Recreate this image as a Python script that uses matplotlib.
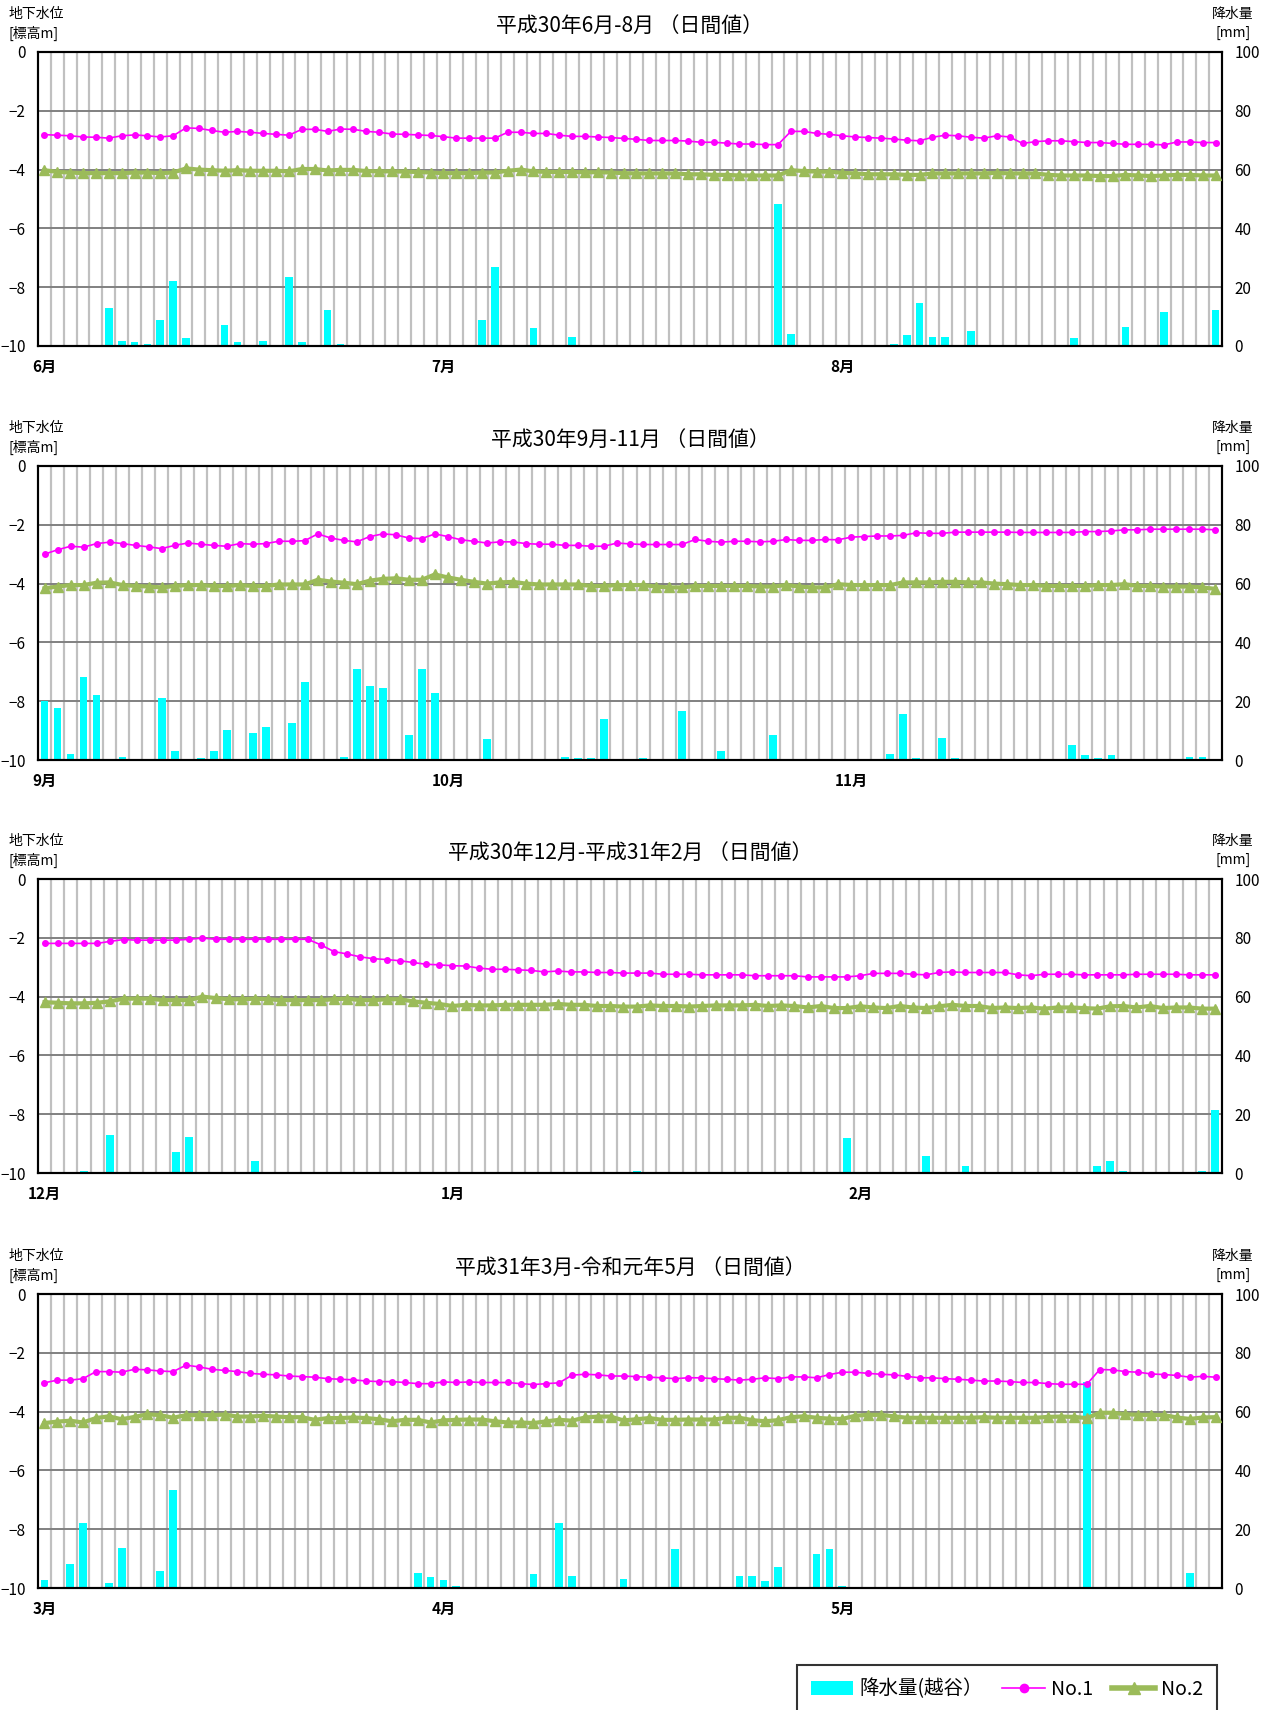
import matplotlib
matplotlib.use('Agg')
import matplotlib.pyplot as plt
from matplotlib.lines import Line2D
from matplotlib.patches import Patch
import numpy as np

plt.rcParams['font.family'] = ['Noto Sans CJK JP', 'DejaVu Sans']

# ---------------- data ----------------
titles = [
    "平成30年6月-8月 （日間値）",
    "平成30年9月-11月 （日間値）",
    "平成30年12月-平成31年2月 （日間値）",
    "平成31年3月-令和元年5月 （日間値）",
]
month_labels = [
    ["6月", "7月", "8月"],
    ["9月", "10月", "11月"],
    ["12月", "1月", "2月"],
    ["3月", "4月", "5月"],
]
month_label_days = [0, 31, 62]

# Panel 1: 2018-06-01 .. 2018-08-31
no1_p1 = [-2.81, -2.83, -2.85, -2.89, -2.90, -2.93, -2.85, -2.82, -2.85, -2.89,
          -2.85, -2.58, -2.60, -2.67, -2.73, -2.70, -2.73, -2.77, -2.80, -2.83,
          -2.63, -2.63, -2.70, -2.62, -2.63, -2.70, -2.73, -2.79, -2.80, -2.82,
          -2.84, -2.88, -2.93, -2.93, -2.93, -2.93, -2.73, -2.73, -2.77, -2.77,
          -2.83, -2.87, -2.87, -2.89, -2.91, -2.94, -2.97, -3.01, -3.01, -3.01,
          -3.03, -3.07, -3.07, -3.10, -3.13, -3.13, -3.15, -3.15, -2.70, -2.70,
          -2.77, -2.80, -2.85, -2.89, -2.91, -2.93, -2.96, -3.00, -3.02, -2.90,
          -2.83, -2.85, -2.90, -2.93, -2.85, -2.89, -3.11, -3.05, -3.02, -3.02,
          -3.05, -3.08, -3.08, -3.11, -3.14, -3.14, -3.14, -3.16, -3.06, -3.06,
          -3.08, -3.08]
no2_p1 = [-4.02, -4.08, -4.10, -4.12, -4.12, -4.12, -4.12, -4.10, -4.10, -4.12,
          -4.10, -3.96, -4.00, -4.02, -4.04, -4.02, -4.04, -4.04, -4.04, -4.06,
          -3.98, -3.98, -4.03, -4.01, -4.01, -4.05, -4.06, -4.06, -4.07, -4.08,
          -4.10, -4.12, -4.12, -4.12, -4.10, -4.10, -4.04, -4.00, -4.06, -4.08,
          -4.08, -4.08, -4.09, -4.09, -4.10, -4.12, -4.13, -4.13, -4.13, -4.13,
          -4.16, -4.16, -4.18, -4.18, -4.20, -4.20, -4.20, -4.20, -4.02, -4.05,
          -4.07, -4.07, -4.11, -4.13, -4.16, -4.16, -4.16, -4.18, -4.18, -4.13,
          -4.13, -4.13, -4.13, -4.13, -4.11, -4.13, -4.13, -4.13, -4.18, -4.20,
          -4.20, -4.20, -4.22, -4.22, -4.18, -4.20, -4.22, -4.20, -4.18, -4.18,
          -4.20, -4.20]
rain_p1 = [0, 0, 0, 0, 0, 12.8, 1.7, 1.2, 0.7, 8.8,
           22.2, 2.8, 0, 0, 7.1, 1.2, 0, 1.7, 0, 23.3,
           1.2, 0, 12.2, 0.7, 0, 0, 0, 0, 0, 0,
           0, 0, 0, 0, 8.8, 26.8, 0, 0, 6.2, 0,
           0, 3.1, 0, 0, 0, 0, 0, 0, 0, 0,
           0, 0, 0, 0, 0, 0, 0, 48.2, 4.2, 0,
           0, 0, 0, 0, 0, 0, 0.7, 3.7, 14.6, 3.1,
           3.1, 0, 5.2, 0, 0, 0, 0, 0, 0, 0,
           2.7, 0, 0, 0, 6.6, 0, 0, 11.7, 0, 0,
           0, 12.2]

# Panel 2: 2018-09-01 .. 2018-11-30
no1_p2 = [-3.00, -2.85, -2.73, -2.76, -2.64, -2.59, -2.64, -2.70, -2.75, -2.81,
          -2.70, -2.62, -2.66, -2.70, -2.73, -2.64, -2.66, -2.64, -2.56, -2.56,
          -2.54, -2.31, -2.45, -2.53, -2.58, -2.40, -2.31, -2.34, -2.45, -2.47,
          -2.31, -2.40, -2.51, -2.56, -2.62, -2.58, -2.58, -2.64, -2.66, -2.66,
          -2.70, -2.70, -2.73, -2.73, -2.62, -2.65, -2.67, -2.67, -2.67, -2.67,
          -2.50, -2.56, -2.59, -2.56, -2.56, -2.58, -2.56, -2.50, -2.53, -2.53,
          -2.50, -2.51, -2.42, -2.40, -2.38, -2.38, -2.36, -2.27, -2.29, -2.29,
          -2.25, -2.25, -2.25, -2.25, -2.25, -2.26, -2.26, -2.26, -2.26, -2.26,
          -2.23, -2.23, -2.21, -2.17, -2.17, -2.15, -2.15, -2.15, -2.15, -2.15,
          -2.17]
no2_p2 = [-4.16, -4.10, -4.05, -4.05, -3.97, -3.96, -4.05, -4.08, -4.10, -4.13,
          -4.08, -4.05, -4.05, -4.08, -4.08, -4.05, -4.08, -4.08, -4.03, -4.03,
          -4.03, -3.87, -3.93, -3.97, -4.02, -3.90, -3.84, -3.82, -3.87, -3.87,
          -3.69, -3.79, -3.87, -3.94, -4.00, -3.96, -3.94, -4.00, -4.03, -4.03,
          -4.03, -4.03, -4.08, -4.08, -4.05, -4.05, -4.05, -4.10, -4.13, -4.13,
          -4.08, -4.08, -4.08, -4.08, -4.08, -4.10, -4.10, -4.05, -4.10, -4.13,
          -4.13, -4.02, -4.05, -4.05, -4.05, -4.05, -3.96, -3.96, -3.96, -3.94,
          -3.94, -3.96, -3.96, -4.00, -4.02, -4.05, -4.05, -4.08, -4.08, -4.08,
          -4.08, -4.05, -4.05, -4.02, -4.08, -4.08, -4.10, -4.10, -4.10, -4.13,
          -4.18]
rain_p2 = [19.9, 17.7, 2.2, 28.1, 22.1, 0, 1.1, 0, 0, 21.1,
           3.2, 0, 0.7, 3.2, 10.3, 0, 9.2, 11.1, 0, 12.6,
           26.7, 0, 0, 1.1, 30.8, 25.1, 24.5, 0, 8.6, 31.0,
           22.8, 0, 0, 0, 7.1, 0, 0, 0, 0, 0,
           1.1, 0.7, 0.7, 13.8, 0, 0, 0.7, 0, 0, 16.8,
           0, 0, 3.2, 0, 0, 0, 8.6, 0, 0, 0,
           0, 0, 0, 0, 0, 2.2, 15.6, 0.7, 0, 7.6,
           0.7, 0, 0, 0, 0, 0, 0, 0, 0, 5.1,
           1.7, 0.7, 1.7, 0, 0, 0, 0, 0, 1.1, 1.1,
           0]

# Panel 3: 2018-12-01 .. 2019-02-28
no1_p3 = [-2.19, -2.19, -2.19, -2.19, -2.19, -2.12, -2.06, -2.08, -2.08, -2.08,
          -2.08, -2.05, -2.01, -2.05, -2.05, -2.05, -2.05, -2.05, -2.05, -2.05,
          -2.05, -2.24, -2.47, -2.55, -2.65, -2.71, -2.74, -2.78, -2.84, -2.90,
          -2.92, -2.95, -2.96, -3.03, -3.07, -3.07, -3.09, -3.11, -3.16, -3.13,
          -3.16, -3.16, -3.18, -3.18, -3.20, -3.20, -3.20, -3.24, -3.24, -3.24,
          -3.26, -3.26, -3.26, -3.26, -3.29, -3.29, -3.29, -3.29, -3.33, -3.33,
          -3.33, -3.33, -3.29, -3.21, -3.21, -3.21, -3.24, -3.26, -3.18, -3.16,
          -3.18, -3.18, -3.18, -3.18, -3.26, -3.29, -3.24, -3.24, -3.24, -3.26,
          -3.26, -3.26, -3.26, -3.24, -3.24, -3.24, -3.24, -3.26, -3.26, -3.26]
no2_p3 = [-4.19, -4.21, -4.23, -4.23, -4.21, -4.16, -4.07, -4.07, -4.07, -4.12,
          -4.12, -4.12, -4.00, -4.05, -4.09, -4.09, -4.07, -4.09, -4.12, -4.12,
          -4.12, -4.12, -4.09, -4.07, -4.12, -4.12, -4.09, -4.09, -4.16, -4.21,
          -4.25, -4.32, -4.28, -4.30, -4.30, -4.28, -4.28, -4.28, -4.28, -4.25,
          -4.28, -4.28, -4.32, -4.32, -4.34, -4.34, -4.30, -4.32, -4.32, -4.34,
          -4.32, -4.30, -4.30, -4.30, -4.28, -4.32, -4.30, -4.32, -4.37, -4.32,
          -4.39, -4.39, -4.33, -4.37, -4.39, -4.32, -4.37, -4.39, -4.33, -4.28,
          -4.32, -4.32, -4.39, -4.37, -4.39, -4.37, -4.41, -4.37, -4.37, -4.39,
          -4.41, -4.33, -4.32, -4.37, -4.32, -4.39, -4.37, -4.37, -4.41, -4.41]
rain_p3 = [0, 0, 0, 0.7, 0, 13.0, 0, 0, 0, 0,
           7.2, 12.4, 0, 0, 0, 0, 4.2, 0, 0, 0,
           0, 0, 0, 0, 0, 0, 0, 0, 0, 0,
           0, 0, 0, 0, 0, 0, 0, 0, 0, 0,
           0, 0, 0, 0, 0, 0.7, 0, 0, 0, 0,
           0, 0, 0, 0, 0, 0, 0, 0, 0, 0,
           0, 11.9, 0, 0, 0, 0, 0, 5.8, 0, 0,
           2.3, 0, 0, 0, 0, 0, 0, 0, 0, 0,
           2.5, 4.2, 0.7, 0, 0, 0, 0, 0, 0.7, 21.3]

# Panel 4: 2019-03-01 .. 2019-05-31
no1_p4 = [-3.02, -2.93, -2.93, -2.88, -2.64, -2.64, -2.66, -2.56, -2.58, -2.62,
          -2.64, -2.42, -2.48, -2.56, -2.60, -2.64, -2.70, -2.73, -2.75, -2.79,
          -2.81, -2.83, -2.88, -2.90, -2.92, -2.96, -2.98, -2.98, -3.01, -3.05,
          -3.05, -2.99, -3.01, -2.99, -3.01, -3.01, -3.01, -3.05, -3.08, -3.05,
          -3.02, -2.76, -2.73, -2.75, -2.79, -2.79, -2.81, -2.83, -2.85, -2.88,
          -2.85, -2.85, -2.88, -2.90, -2.93, -2.90, -2.85, -2.88, -2.82, -2.82,
          -2.85, -2.74, -2.66, -2.66, -2.70, -2.73, -2.75, -2.80, -2.85, -2.85,
          -2.88, -2.90, -2.93, -2.96, -2.96, -2.98, -3.01, -3.01, -3.05, -3.07,
          -3.07, -3.07, -2.57, -2.58, -2.64, -2.66, -2.72, -2.74, -2.77, -2.83,
          -2.80, -2.83]
no2_p4 = [-4.39, -4.34, -4.31, -4.37, -4.22, -4.16, -4.26, -4.18, -4.09, -4.12,
          -4.21, -4.12, -4.12, -4.12, -4.10, -4.17, -4.17, -4.14, -4.17, -4.19,
          -4.19, -4.28, -4.22, -4.22, -4.20, -4.22, -4.26, -4.33, -4.28, -4.28,
          -4.37, -4.30, -4.28, -4.27, -4.27, -4.33, -4.37, -4.37, -4.39, -4.33,
          -4.28, -4.31, -4.20, -4.17, -4.17, -4.30, -4.26, -4.22, -4.28, -4.28,
          -4.27, -4.27, -4.27, -4.21, -4.21, -4.29, -4.33, -4.29, -4.19, -4.16,
          -4.21, -4.24, -4.25, -4.14, -4.11, -4.11, -4.16, -4.21, -4.21, -4.21,
          -4.21, -4.21, -4.21, -4.19, -4.21, -4.21, -4.21, -4.21, -4.18, -4.17,
          -4.18, -4.22, -4.04, -4.04, -4.09, -4.11, -4.11, -4.12, -4.20, -4.25,
          -4.20, -4.19]
rain_p4 = [2.8, 0, 8.2, 22.1, 0, 1.7, 13.6, 0, 0, 5.7,
           33.2, 0, 0, 0, 0, 0, 0, 0, 0, 0,
           0, 0, 0, 0, 0, 0, 0, 0, 0, 5.2,
           3.6, 2.7, 0.7, 0, 0, 0, 0, 0, 4.6, 0,
           22.1, 4.1, 0, 0, 0, 3.1, 0, 0, 0, 13.3,
           0, 0, 0, 0, 4.1, 4.1, 2.3, 7.1, 0, 0,
           11.7, 13.3, 0.7, 0, 0, 0, 0, 0, 0, 0,
           0, 0, 0, 0, 0, 0, 0, 0, 0, 0,
           0, 70.0, 0, 0, 0, 0, 0, 0, 0, 5.2,
           0, 0]

no1_all = [no1_p1, no1_p2, no1_p3, no1_p4]
no2_all = [no2_p1, no2_p2, no2_p3, no2_p4]
rain_all = [rain_p1, rain_p2, rain_p3, rain_p4]

level_ticks = [0, -2, -4, -6, -8, -10]
rain_ticks = [0, 20, 40, 60, 80, 100]

# ---------------- styling ----------------
C_RAIN = '#00FFFF'
C_NO1 = '#FF00FF'
C_NO2 = '#9BBB59'

W, H = 1264, 1710
fig = plt.figure(figsize=(W / 100, H / 100), dpi=100)

tops = [52, 466, 879, 1294]
PH = 294
LEFT = 38
PW = 1184

for k in range(4):
    rain = rain_all[k]
    n = len(rain)
    x = np.arange(n) + 0.5
    ax = fig.add_axes([LEFT / W, 1 - (tops[k] + PH) / H, PW / W, PH / H])
    ax2 = ax.twinx()

    # precipitation (right axis, drawn underneath)
    ax.set_xlim(0, n)
    ax.set_ylim(0, 100)
    ax.bar(x, rain, width=0.6, color=C_RAIN, zorder=2)
    ax.set_xticks(np.arange(1, n), minor=True)
    ax.set_xticks(np.array(month_label_days) + 0.5)
    ax.set_xticklabels(month_labels[k], fontsize=11, fontweight='bold')
    ax.grid(True, which='minor', axis='x', color='#C0C0C0', lw=1.6)
    ax.set_yticks(rain_ticks)
    ax.grid(True, which='major', axis='y', color='#808080', lw=1.4)
    ax.set_axisbelow(True)
    ax.yaxis.tick_right()
    ax.yaxis.set_label_position('right')
    ax.tick_params(axis='x', which='both', length=0, pad=9)
    ax.tick_params(axis='y', which='both', length=0, pad=9, labelsize=11,
                   left=False, labelleft=False, right=True, labelright=True)
    for s in ax.spines.values():
        s.set_linewidth(1.5)
        s.set_color('black')

    # groundwater level (left axis, drawn on top)
    ax2.set_ylim(-10, 0)
    ax2.set_yticks(level_ticks)
    ax2.tick_params(axis='y', which='both', length=0, pad=9, labelsize=11,
                    left=True, labelleft=True, right=False, labelright=False)
    ax2.plot(x, no2_all[k], color=C_NO2, lw=3, marker='^', ms=7, zorder=3)
    ax2.plot(x, no1_all[k], color=C_NO1, lw=1.2, marker='o', ms=4, zorder=4)
    for s in ax2.spines.values():
        s.set_linewidth(1.5)
        s.set_color('black')

    top = tops[k]
    fig.text(LEFT / W + PW / W / 2, 1 - (top - 26) / H, titles[k],
             ha='center', va='center', fontsize=15)
    fig.text(9 / W, 1 - (top - 38) / H, "地下水位", ha='left', va='center', fontsize=10)
    fig.text(9 / W, 1 - (top - 19) / H, "[標高m]", ha='left', va='center', fontsize=10)
    fig.text(1233 / W, 1 - (top - 38) / H, "降水量", ha='center', va='center', fontsize=10)
    fig.text(1233 / W, 1 - (top - 19) / H, "[mm]", ha='center', va='center', fontsize=10)

handles = [
    Patch(facecolor=C_RAIN, edgecolor='none'),
    Line2D([], [], color=C_NO1, lw=1.2, marker='o', ms=6),
    Line2D([], [], color=C_NO2, lw=4, marker='^', ms=9),
]
labels = ["降水量(越谷）", "No.1", "No.2"]
leg = fig.legend(handles, labels, loc='upper left', bbox_to_anchor=(797 / W, 1 - 1665 / H),
                 ncol=3, frameon=True, fancybox=False, edgecolor='black', fontsize=14,
                 handlelength=2.2, handletextpad=0.3, columnspacing=1.0, borderpad=0.7,
                 borderaxespad=0)
leg.get_frame().set_linewidth(1.5)

fig.savefig('out.png', dpi=100)
